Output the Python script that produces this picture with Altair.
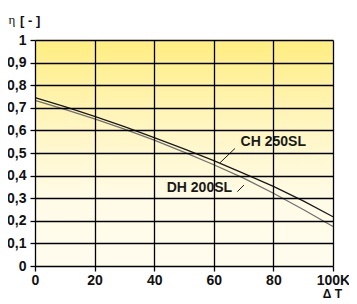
import altair as alt
import pandas as pd

# Data
dT = [0, 10, 20, 30, 40, 50, 60, 70, 80, 90, 100]
ch_250sl = [0.745, 0.705, 0.662, 0.617, 0.568, 0.518, 0.466, 0.410, 0.352, 0.288, 0.218]
dh_200sl = [0.733, 0.693, 0.651, 0.606, 0.557, 0.504, 0.448, 0.389, 0.322, 0.250, 0.175]
series_names = ["CH 250SL", "DH 200SL"]
x_ticks = [0, 20, 40, 60, 80, 100]
y_ticks = [0, 0.1, 0.2, 0.3, 0.4, 0.5, 0.6, 0.7, 0.8, 0.9, 1.0]

df = pd.DataFrame({
    "dT": dT * 2,
    "eta": ch_250sl + dh_200sl,
    "model": [series_names[0]] * len(dT) + [series_names[1]] * len(dT),
})

FONT = "Liberation Sans"
xs = alt.Scale(domain=[0, 100], nice=False)
ys = alt.Scale(domain=[0, 1], nice=False)

x_axis = alt.Axis(
    values=x_ticks, grid=True, gridColor="black", gridWidth=1.3, gridOpacity=1,
    domain=False, tickColor="black", tickWidth=1.3, tickSize=5,
    labelFont=FONT, labelFontWeight="bold", labelFontSize=14, labelColor="#111",
    labelPadding=2, labelFlush=False,
    labelExpr="datum.value == 100 ? '100K' : datum.label",
    title="Δ T", titleFont=FONT, titleFontWeight="bold", titleFontSize=12,
    titleColor="#111", titleX=297, titleY=22, titleBaseline="top", titleAlign="center",
    zindex=1,
)
y_axis = alt.Axis(
    values=y_ticks, grid=True, gridColor="black", gridWidth=1.3, gridOpacity=1,
    domain=False, tickColor="black", tickWidth=1.3, tickSize=5,
    labelFont=FONT, labelFontWeight="bold", labelFontSize=14, labelColor="#111",
    labelPadding=4, labelFlush=False,
    labelExpr="datum.value == 1 ? '1' : (datum.value == 0 ? '0' : replace(format(datum.value, '.1f'), '.', ','))",
    title=None, zindex=1,
)

bg = alt.Chart(pd.DataFrame({"x": [0], "x2": [100], "y": [0], "y2": [1]})).mark_rect(
    color=alt.Gradient(
        gradient="linear",
        stops=[
            alt.GradientStop(color="#FFEE80", offset=0),
            alt.GradientStop(color="#FFF6C4", offset=0.4),
            alt.GradientStop(color="#FFFBE6", offset=0.7),
            alt.GradientStop(color="#FFFCEE", offset=1),
        ],
        x1=0, x2=0, y1=0, y2=1,
    )
).encode(
    x=alt.X("x:Q", scale=xs, axis=x_axis),
    x2="x2",
    y=alt.Y("y:Q", scale=ys, axis=y_axis),
    y2="y2",
)

lines = alt.Chart(df).mark_line(strokeWidth=1.3).encode(
    x=alt.X("dT:Q", scale=xs, axis=x_axis),
    y=alt.Y("eta:Q", scale=ys, axis=y_axis),
    color=alt.Color("model:N", scale=alt.Scale(domain=series_names, range=["#1a1a1a", "#707070"]), legend=None),
)

label_df = pd.DataFrame({
    "x": [69.0, 44.2],
    "y": [0.549, 0.344],
    "text": series_names,
})
labels = alt.Chart(label_df).mark_text(
    font=FONT, fontWeight="bold", fontSize=14, align="left", baseline="middle", color="#1a1a1a"
).encode(x=alt.X("x:Q", scale=xs, axis=x_axis), y=alt.Y("y:Q", scale=ys, axis=y_axis), text="text:N")

leader_df = pd.DataFrame({
    "x": [62.1, 67.9], "x2": [67.1, 70.1],
    "y": [0.457, 0.329], "y2": [0.520, 0.358],
})
leaders = alt.Chart(leader_df).mark_rule(color="#1a1a1a", strokeWidth=1).encode(
    x=alt.X("x:Q", scale=xs, axis=x_axis), x2="x2", y=alt.Y("y:Q", scale=ys, axis=y_axis), y2="y2"
)

eta = alt.Chart(pd.DataFrame({"t": ["η"]})).mark_text(
    font="Liberation Serif", fontSize=13, align="center", baseline="alphabetic", color="#111"
).encode(x=alt.value(-23), y=alt.value(-16), text="t:N")
unit = alt.Chart(pd.DataFrame({"t": ["[ - ]"]})).mark_text(
    font=FONT, fontWeight="bold", fontSize=13, align="left", baseline="alphabetic", color="#111"
).encode(x=alt.value(-15), y=alt.value(-15), text="t:N")

chart = alt.layer(bg, lines, leaders, labels, eta, unit).properties(
    width=298, height=226,
    autosize=alt.AutoSizeParams(type="none"),
    padding={"left": 27, "top": 32, "right": 16, "bottom": 36},
).configure_view(stroke="black", strokeWidth=1.3).configure(background="white")

chart.save("out.html", embed_options={"renderer": "svg", "actions": False})
